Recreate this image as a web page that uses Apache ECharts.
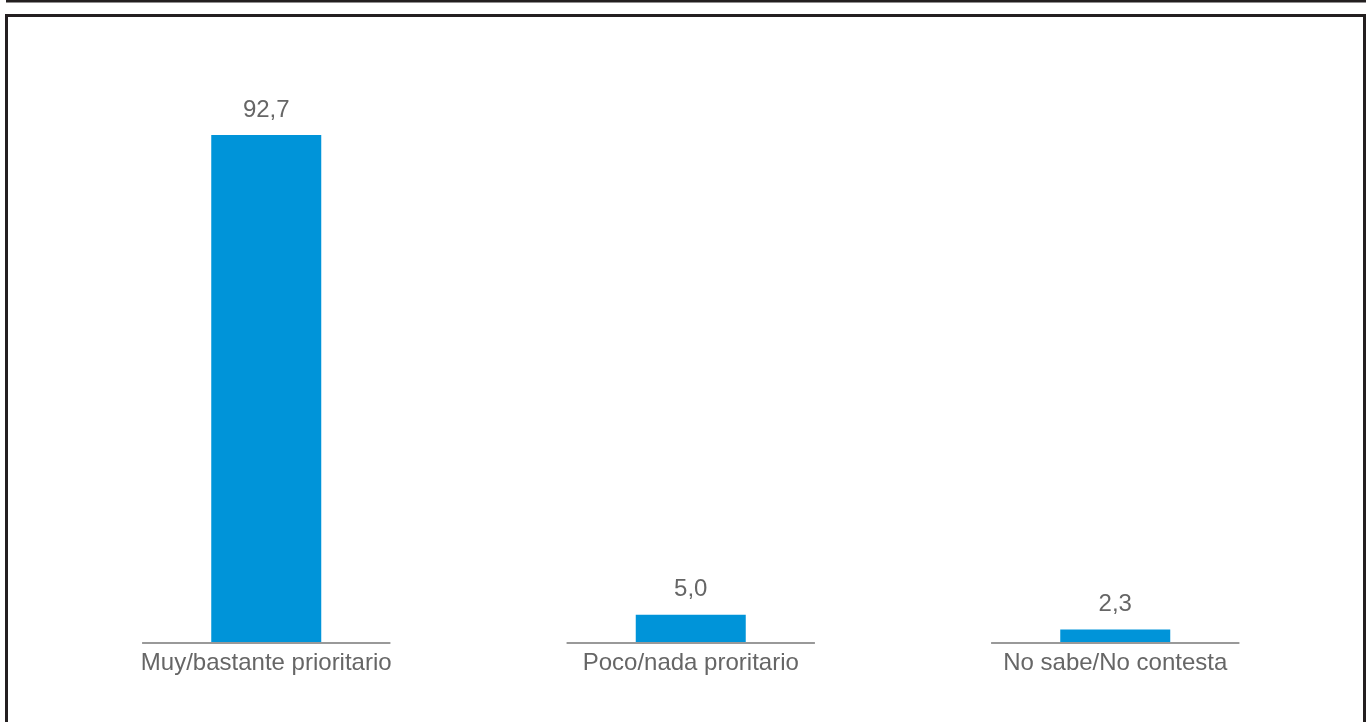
<!DOCTYPE html>
<html>
<head>
<meta charset="utf-8">
<script src="https://cdn.jsdelivr.net/npm/echarts@6/dist/echarts.min.js"></script>
<style>
html,body{margin:0;padding:0;background:#fff;}
#chart{width:1366px;height:722px;}
</style>
</head>
<body>
<div id="chart"></div>
<script>
var categories = ['Muy/bastante prioritario', 'Poco/nada proritario', 'No sabe/No contesta'];
var values = [92.7, 5.0, 2.3];

var chart = echarts.init(document.getElementById('chart'));
var option = {
  backgroundColor: '#ffffff',
  animation: false,
  graphic: [
    { type: 'line', shape: { x1: 6, y1: 1, x2: 1366, y2: 1 }, style: { stroke: '#231f20', lineWidth: 3 } },
    { type: 'rect', shape: { x: 6.5, y: 15.5, width: 1358, height: 800 }, style: { stroke: '#231f20', fill: null, lineWidth: 3 } }
  ],
  grid: { left: 54, right: 38.5, top: 95, bottom: 80 },
  xAxis: {
    type: 'category',
    data: categories,
    axisLine: { show: false },
    axisTick: { show: false },
    axisLabel: { color: '#666666', fontSize: 24, margin: 9, fontFamily: 'Liberation Sans, Arial, sans-serif' }
  },
  yAxis: {
    type: 'value', min: 0, max: 100, show: false, splitLine: { show: false }
  },
  series: [
    {
      type: 'bar',
      data: values,
      barWidth: 110,
      itemStyle: { color: '#0094d9' },
      label: {
        show: true, position: 'top', distance: 13,
        color: '#666666', fontSize: 24, fontFamily: 'Liberation Sans, Arial, sans-serif',
        formatter: function (p) { return p.value.toFixed(1).replace('.', ','); }
      }
    },
    {
      type: 'custom',
      data: categories.map(function (c, i) { return [i, 0]; }),
      encode: { x: 0, y: 1 },
      z: 3,
      renderItem: function (params, api) {
        var c = api.coord([api.value(0), 0]);
        var w = api.size([1, 0])[0] * 0.585;
        return {
          type: 'line',
          shape: { x1: c[0] - w / 2, y1: c[1] + 1, x2: c[0] + w / 2, y2: c[1] + 1 },
          style: { stroke: '#999999', lineWidth: 2 }
        };
      }
    }
  ]
};
chart.setOption(option);
</script>
</body>
</html>
